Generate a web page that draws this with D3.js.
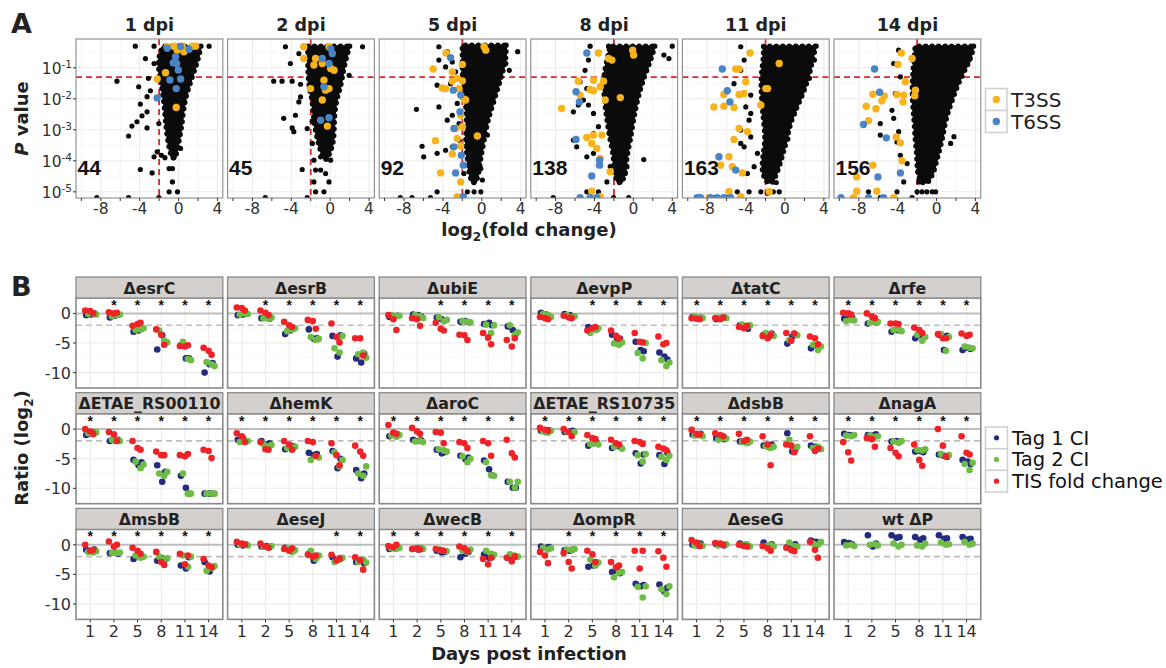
<!DOCTYPE html>
<html><head><meta charset="utf-8">
<script src="https://cdn.jsdelivr.net/npm/d3@7"></script>
<style>body{margin:0;background:#fff}svg{display:block}</style>
</head><body><svg id="c" width="1166" height="668"></svg>
<script>
// ---------------- Panel A data ----------------
const dpiLabels = ["1 dpi","2 dpi","5 dpi","8 dpi","11 dpi","14 dpi"];
const sigCounts = [44,45,92,138,163,156];
const xTickLabelsA = [-8,-4,0,4];
const xTickMarksA = [-10,-8,-6,-4,-2,0,2,4];
const yExpTicksA = [-1,-2,-3,-4,-5];
const pCutoff = 0.05;
const foldCutoff = -2;
// dense core of black points: [log10 P, min log2FC, max log2FC]
const env1 = [[-0.30,-1.6,2.3],[-0.75,-2.2,2.0],[-1.3,-1.9,1.4],[-2.05,-1.5,0.6],[-2.7,-1.35,0.4],[-3.13,-1.2,0.2],[-3.56,-1.0,-0.1],[-3.9,-0.7,-0.3]];
const env2 = [[-0.30,-2.3,2.0],[-0.98,-2.3,1.4],[-1.62,-2.2,1.1],[-2.05,-1.8,0.6],[-2.7,-1.7,0.4],[-3.35,-1.3,0.4],[-3.67,-1.0,0.05],[-3.95,-0.6,-0.3]];
const env3 = [[-0.27,-2.0,2.5],[-0.75,-2.0,2.5],[-1.29,-2.0,2.0],[-2.04,-1.7,1.3],[-2.69,-1.5,0.6],[-3.33,-1.7,0.25],[-3.87,-1.5,-0.1],[-4.41,-1.3,-0.3],[-4.7,-1.0,-0.6]];
const env4 = [[-0.30,-2.4,2.2],[-0.75,-2.7,1.8],[-1.29,-3.1,1.1],[-2.04,-3.0,0.4],[-2.69,-2.7,0.0],[-3.33,-2.4,-0.3],[-3.87,-2.0,-0.7],[-4.41,-2.0,-0.8],[-4.7,-1.6,-1.2]];
const env5 = [[-0.30,-2.2,3.2],[-0.75,-2.2,2.8],[-1.29,-2.5,2.5],[-2.04,-2.4,1.6],[-2.69,-2.2,0.6],[-3.33,-2.0,0.2],[-3.87,-2.3,-0.3],[-4.41,-2.4,-0.8],[-4.7,-1.8,-1.3]];
const env6 = [[-0.30,-2.2,3.8],[-0.75,-2.3,3.5],[-1.29,-2.5,2.5],[-2.04,-2.5,1.6],[-2.69,-2.3,0.9],[-3.33,-2.2,0.6],[-3.87,-2.0,0.1],[-4.41,-2.0,-0.3],[-4.7,-1.6,-0.9]];
// scattered black points: [log2FC, log10 P]
const blk1 = [[-4.45,-0.30],[-2.52,-0.30],[3.14,-0.30],[-3.41,-0.70],[-2.52,-0.86],[-6.34,-1.43],[-3.1,-1.34],[-4.1,-1.61],[-2.9,-1.74],[-3.24,-1.93],[-3.93,-2.17],[-3.24,-2.42],[-3.76,-2.55],[-4.28,-2.74],[-4.8,-2.88],[-5.14,-3.20],[-3.24,-2.94],[-2.03,-2.8],[-2.2,-3.71],[-1.76,-3.82],[-2.52,-3.87],[-3.93,-4.28],[-2.72,-4.39],[-0.97,-4.25],[-0.63,-4.25],[-0.63,-4.68],[-0.97,-5.0],[-0.11,-5.0],[-8.41,-5.19],[-5.14,-5.19],[-2.03,-5.19],[-0.5,-3.9],[0.2,-3.6],[-1.4,-3.9]];
const blk2 = [[-4.60,-0.32],[-2.71,-0.30],[3.33,-0.32],[-3.22,-0.54],[-4.09,-0.86],[-5.81,-1.43],[-4.95,-1.43],[-3.91,-1.43],[-3.05,-1.53],[1.95,-1.24],[-3.05,-1.94],[-3.22,-2.10],[-3.57,-2.53],[-4.78,-2.63],[-1.84,-2.72],[-3.91,-2.94],[-3.74,-3.06],[-2.36,-2.96],[-1.16,-2.88],[-1.84,-3.44],[-0.98,-3.87],[-0.12,-3.60],[0.05,-3.98],[-1.67,-3.98],[-2.88,-4.28],[-1.5,-4.30],[-0.98,-4.30],[-0.47,-4.41],[-1.67,-4.68],[-0.12,-4.68],[-1.5,-5.0],[-0.64,-5.0],[-6.67,-5.19],[-2.36,-5.19]];
const blk3 = [[-4.41,-0.32],[-3.55,-0.48],[-4.41,-0.75],[-3.72,-0.97],[-3.03,-0.81],[-2.69,-1.13],[-4.59,-1.56],[-3.21,-1.51],[-4.41,-2.26],[-6.72,-2.34],[-2.52,-2.15],[-3.03,-2.53],[-3.55,-2.69],[-2.34,-2.80],[-6.14,-3.53],[-5.97,-3.87],[-4.59,-3.76],[-3.72,-3.66],[-3.03,-3.55],[-2.34,-3.33],[-1.83,-4.41],[-0.1,-4.25],[0.07,-4.62],[-0.1,-5.0],[-1.48,-5.0],[-0.79,-5.0],[-4.59,-5.0],[-8.38,-5.19],[-7.17,-5.19],[-5.28,-5.19],[3.69,-0.48],[2.48,-0.86],[2.83,-1.08],[0.59,-3.17],[0.07,-3.06]];
const blk4 = [[-4.45,-0.30],[-2.55,-0.30],[4.0,-0.30],[3.14,-0.59],[3.66,-0.70],[-4.62,-0.75],[-4.97,-1.08],[-5.48,-1.45],[-4.79,-1.67],[-5.14,-2.04],[-5.66,-2.20],[-6.17,-2.42],[-4.62,-2.20],[-4.10,-2.47],[-3.59,-2.90],[-4.10,-3.12],[-6.17,-3.33],[-5.83,-3.55],[-4.79,-3.87],[-4.10,-3.76],[-2.38,-4.19],[-0.66,-4.19],[-0.83,-4.41],[1.07,-3.96],[-2.72,-4.68],[-4.79,-5.0],[-3.59,-5.0],[-8.24,-5.19],[-2.03,-5.19],[-0.48,-5.19]];
const blk5 = [[-4.55,-0.32],[-4.2,-0.75],[-4.55,-1.08],[-5.24,-1.51],[-3.52,-1.88],[-4.03,-2.26],[-3.52,-2.47],[-3.69,-2.69],[-4.55,-3.01],[-3.52,-3.23],[-4.2,-3.55],[-4.55,-3.44],[-2.83,-3.76],[-3.17,-4.19],[-3.86,-4.41],[-1.79,-4.41],[-4.9,-5.0],[-3.69,-5.0],[-2.48,-5.0],[-5.93,-5.19],[-7.31,-5.19],[3.03,-0.75],[2.52,-1.34],[1.59,-1.77],[0.97,-2.47],[0.3,-3.3],[-1.8,-5.05],[-0.59,-5.0],[-1.2,-5.0],[-0.9,-4.7]];
const blk6 = [[-3.9,-0.43],[-4.41,-0.86],[-3.72,-1.29],[-4.24,-1.83],[-4.59,-2.37],[-4.41,-2.63],[-5.79,-2.80],[-3.9,-3.06],[-4.07,-3.39],[-5.79,-3.17],[-3.72,-3.82],[-3.03,-4.09],[-3.38,-4.68],[-1.83,-4.68],[-4.07,-5.0],[-7.0,-5.0],[-2.0,-5.0],[-1.5,-5.0],[-1.0,-5.0],[-0.45,-5.0],[-0.1,-5.0],[-5.79,-5.19],[-2.52,-5.19],[1.79,-3.22],[1.45,-3.44],[3.52,-0.48],[3.34,-0.75]];
const t3ss1 = [[-1.17,-0.32],[-0.48,-0.30],[0.38,-0.30],[1.41,-0.30],[1.76,-0.30],[0.55,-0.48],[-0.14,-0.43],[-1.34,-1.16],[-2.2,-1.36],[-0.24,-2.28]];
const t6ss1 = [[-1.17,-0.37],[0.21,-0.31],[1.07,-0.40],[-0.31,-0.64],[-0.2,-0.86],[-0.55,-0.84],[-0.03,-1.07],[-0.89,-1.39],[0.21,-1.36],[-0.24,-1.67],[-2.2,-1.97]];
const t3ss2 = [[-2.71,-0.32],[-0.12,-0.32],[-2.71,-0.70],[-1.5,-0.70],[-1.67,-0.91],[-0.81,-0.86],[0.05,-1.02],[0.4,-1.08],[-0.64,-1.40],[-2.02,-1.67],[-0.47,-1.72],[-0.12,-1.67],[-0.81,-2.04],[-0.29,-2.88]];
const t6ss2 = [[0.05,-0.38],[-0.81,-0.70],[-0.12,-0.86],[0.22,-0.54],[-0.64,-1.61],[-0.98,-2.69],[-0.12,-2.61]];
const t3ss3 = [[0.24,-0.32],[0.41,-0.43],[-3.66,-0.52],[-2.0,-0.89],[-5.0,-1.04],[-3.03,-1.13],[-2.52,-1.34],[-2.0,-1.42],[-3.03,-1.43],[-4.07,-1.65],[-3.72,-1.67],[-2.34,-1.67],[-1.66,-2.04],[-1.83,-2.01],[-2.17,-2.53],[-2.69,-2.96],[-2.0,-2.90],[-0.45,-3.20],[-4.76,-3.35],[-2.52,-3.28],[-2.17,-3.52],[-3.03,-3.78],[-4.24,-4.39],[-2.17,-4.68],[-2.52,-5.16]];
const t6ss3 = [[-3.21,-0.67],[-2.93,-1.72],[-2.17,-1.88],[-2.24,-2.42],[-2.86,-2.96],[-2.86,-3.55],[-2.1,-3.82],[-1.90,-4.14],[-2.69,-4.39],[-1.9,-5.16]];
const t3ss4 = [[-3.59,-0.52],[-2.55,-0.70],[-2.21,-0.75],[-0.07,-0.43],[0.03,-0.59],[-5.66,-1.43],[-4.1,-1.40],[-3.07,-1.43],[-4.45,-1.70],[-4.1,-1.74],[-3.41,-1.61],[-5.48,-1.88],[-2.9,-2.04],[-1.34,-1.96],[-7.38,-2.31],[-4.79,-3.25],[-4.1,-3.17],[-3.24,-3.17],[-4.28,-3.44],[-3.76,-3.60],[-3.41,-3.92],[-2.38,-4.35],[-4.28,-4.98],[-3.41,-5.16]];
const t6ss4 = [[-4.79,-0.52],[-5.9,-1.77],[-5.55,-2.10],[-5.9,-3.31],[-3.48,-3.98],[-3.48,-4.14],[-4.28,-4.49],[-5.48,-5.19],[-4.45,-5.19],[-3.76,-5.19]];
const t3ss5 = [[-3.59,-0.52],[-5.07,-1.04],[-4.72,-1.04],[-4.03,-1.45],[-6.28,-1.86],[-4.72,-1.86],[-4.21,-1.83],[-7.31,-2.26],[-6.28,-2.24],[-5.24,-2.28],[-1.79,-1.67],[-4.72,-2.96],[-3.86,-3.06],[-5.24,-3.31],[-5.76,-3.87],[-6.62,-4.14],[-5.41,-4.19],[-4.38,-4.39],[-5.76,-5.0],[-4.55,-5.16],[-1.62,-5.0],[-7.83,-5.19],[-0.59,-0.86],[-1.97,-1.67],[-2.48,-2.20]];
const t6ss5 = [[-6.45,-1.04],[-5.93,-1.74],[-5.66,-2.10],[-6.79,-3.87],[-5.07,-4.30],[-9.03,-5.19],[-8.69,-5.19],[-7.66,-5.19],[-6.97,-5.19],[-6.28,-5.19],[-5.59,-5.19]];
const t3ss6 = [[-3.62,-0.52],[-2.52,-0.70],[-3.97,-0.89],[-3.21,-1.45],[-2.17,-1.72],[-2.24,-1.90],[-4.07,-1.86],[-3.38,-1.88],[-3.45,-2.10],[-5.38,-1.91],[-5.62,-2.06],[-6.55,-1.85],[-7.24,-2.24],[-6.24,-2.32],[-7.0,-2.71],[-4.14,-3.23],[-3.72,-3.42],[-3.55,-4.0],[-6.55,-4.14],[-8.21,-4.52],[-8.21,-4.98],[-6.14,-4.98],[-8.55,-5.19],[-4.41,-5.19]];
const t6ss6 = [[-6.38,-1.04],[-5.86,-1.79],[-7.52,-2.83],[-5.17,-3.26],[-6.03,-4.52],[-3.72,-4.39],[-9.83,-5.19],[-7.0,-5.19],[-5.45,-5.19]];

// ---------------- Panel B data ----------------
const days = ["1","2","5","8","11","14"];
const yTicksB = [0,-5,-10];
const mutants = ["ΔesrC","ΔesrB","ΔubiE","ΔevpP","ΔtatC","Δrfe",
  "ΔETAE_RS00110","ΔhemK","ΔaroC","ΔETAE_RS10735","ΔdsbB","ΔnagA",
  "ΔmsbB","ΔeseJ","ΔwecB","ΔompR","ΔeseG","wt ΔP"];
const seriesNames = ["Tag 1 CI","Tag 2 CI","TIS fold change"];
// each array: 6 days x replicates (log2 ratio)
const esrC_tag1 = [[-0.3,-0.2,0],[-0.7,-0.4,-0.2],[-3.1,-2.9,-2.6],[-6.1,-3.7,-4.8],[-5.4,-7.6,-7.6],[-10,-8.6,-8.4]];
const esrC_tag2 = [[-0.1,0,-0.2],[-0.5,-0.3,-0.2],[-2.8,-2.7,-2.5],[-2.9,-4.6,-4.9],[-4.8,-7.7,-7.9],[-8.2,-8.6,-8.9]];
const esrC_tis  = [[0.5,0.4,0],[0.2,0,0.1],[-2.1,-1.8,-1.6],[-2.7,-3.6,-5.3],[-5.5,-5.6,-5.4],[-5.8,-6.3,-7.0]];
const esrB_tag1 = [[-0.3,-0.2,-0.1],[-0.8,-0.7,-0.9],[-3.5,-2.9,-2.6],[-2.7,-4.3,-4.2],[-3.8,-7.3,-3.7],[-7.6,-8.3,-6.8]];
const esrB_tag2 = [[-0.2,0,-0.1],[-0.8,-0.9,-0.7],[-3.0,-2.7,-2.5],[-4.0,-4.5,-4.3],[-5.9,-6.6,-3.8],[-6.9,-6.6,-7.5]];
const esrB_tis  = [[1.0,0.9,0.5],[0.5,0.1,-0.3],[-1.4,-2.0,-2.3],[-1.1,-1.3,-2.6],[-1.7,-4.0,-4.9],[-4.2,-4.2,-7.1]];
const ubiE_tag1 = [[-0.6,-0.5,-0.4],[-0.2,-0.3,-0.5],[-0.7,-1.0,-1.2],[-1.4,-1.3,-1.5],[-1.8,-1.6,-2.0],[-2.2,-2.8,-3.5]];
const ubiE_tag2 = [[-0.3,-0.5,-0.4],[-0.3,-0.5,-0.8],[-0.6,-1.3,-1.1],[-1.3,-1.4,-1.5],[-1.9,-3.3,-2.0],[-2.0,-3.6,-3.2]];
const ubiE_tis  = [[-0.3,-1.0,-2.8],[-0.8,-1.0,-2.1],[-1.6,-2.6,-2.9],[-3.6,-3.7,-4.5],[-3.3,-4.1,-5.2],[-4.5,-5.6,-4.2]];
const evpP_tag1 = [[0.1,-0.2,-0.5],[-0.1,-0.3,-0.5],[-2.3,-2.5,-2.7],[-3.6,-4.5,-4.3],[-4.8,-6.2,-6.4],[-6.6,-7.3,-7.8]];
const evpP_tag2 = [[-0.1,-0.3,-0.6],[-0.3,-0.6,-0.5],[-3.3,-2.7,-2.5],[-5.1,-5.3,-4.9],[-6.7,-7.6,-5.0],[-7.9,-8.9,-8.3]];
const evpP_tis  = [[-0.6,-0.8,-1.0],[-0.4,-0.7,-0.8],[-2.9,-2.5,-2.3],[-2.9,-3.8,-4.2],[-3.3,-4.8,-4.9],[-3.9,-5.2,-5.0]];
const tatC_tag1 = [[-0.6,-0.8,-0.7],[-1.0,-0.8,-0.7],[-2.0,-2.3,-2.6],[-3.6,-4.0,-3.4],[-5.1,-3.9,-3.6],[-5.9,-5.4,-5.6]];
const tatC_tag2 = [[-0.5,-0.7,-0.8],[-0.7,-0.6,-0.8],[-1.9,-2.2,-2.0],[-3.3,-3.5,-3.8],[-4.5,-3.4,-3.7],[-5.3,-6.2,-5.6]];
const tatC_tis  = [[-0.8,-0.9,-1.0],[-0.8,-1.0,-0.7],[-2.3,-2.5,-2.1],[-3.8,-4.2,-3.6],[-3.3,-4.6,-3.4],[-3.9,-4.2,-5.2]];
const rfe_tag1 = [[-0.9,-1.0,-0.8],[-1.7,-1.3,-1.5],[-3.1,-2.8,-2.9],[-4.2,-3.7,-3.9],[-3.6,-6.2,-3.8],[-6.2,-5.8,-6.0]];
const rfe_tag2 = [[-1.3,-1.1,-1.2],[-1.6,-1.5,-1.4],[-2.8,-2.7,-3.0],[-3.6,-4.6,-4.0],[-3.5,-6.3,-4.0],[-5.6,-5.8,-5.9]];
const rfe_tis  = [[0.1,0,-0.2],[0,-0.5,-0.8],[-1.7,-1.7,-1.8],[-2.4,-2.8,-3.3],[-3.5,-4.2,-4.2],[-3.4,-3.8,-3.6]];
const RS00110_tag1 = [[-1.0,-0.8,-0.6],[-2.0,-1.9,-1.8],[-5.2,-6.1,-5.6],[-6.1,-8.9,-7.2],[-7.9,-9.9,-10.9],[-10.9,-10.9,-10.9]];
const RS00110_tag2 = [[-0.7,-0.9,-0.6],[-1.8,-1.9,-2.0],[-5.5,-6.6,-6.0],[-7.5,-7.9,-7.2],[-7.5,-10.9,-10.9],[-10.9,-10.9,-10.9]];
const RS00110_tis  = [[0,-0.4,-0.8],[-0.5,-0.9,-2.0],[-2.0,-3.2,-3.5],[-3.8,-4.4,-4.4],[-4.4,-4.6,-4.2],[-3.5,-3.7,-4.9]];
const hemK_tag1 = [[-1.8,-1.5,-2.0],[-2.0,-2.6,-2.4],[-3.4,-3.2,-2.9],[-4.0,-4.4,-4.2],[-3.7,-6.6,-5.0],[-6.9,-8.3,-7.5]];
const hemK_tag2 = [[-2.2,-2.1,-2.0],[-2.6,-2.9,-2.7],[-3.2,-3.4,-3.0],[-5.2,-4.6,-4.8],[-3.9,-6.3,-5.2],[-7.5,-7.9,-6.3]];
const hemK_tis  = [[-0.7,-1.2,-2.2],[-2.2,-3.4,-3.5],[-2.0,-2.6,-3.5],[-2.0,-2.2,-4.5],[-2.4,-4.4,-6.1],[-2.8,-3.8,-4.5]];
const aroC_tag1 = [[-1.2,-1.0,-0.9],[-1.8,-2.0,-1.9],[-3.5,-4.1,-3.9],[-4.5,-5.1,-4.8],[-5.3,-6.8,-7.8],[-8.9,-9.9,-9.9]];
const aroC_tag2 = [[-1.1,-1.3,-1.0],[-2.1,-2.0,-2.2],[-3.4,-3.6,-3.8],[-4.6,-5.6,-5.0],[-5.6,-7.8,-7.9],[-8.9,-9.9,-8.9]];
const aroC_tis  = [[0.7,-0.6,-0.8],[0.2,-0.4,-0.8],[-0.5,-0.6,-2.4],[-2.2,-2.4,-3.2],[-2.0,-2.4,-4.5],[-1.8,-4.1,-4.8]];
const RS10735_tag1 = [[-0.3,-0.5,-0.2],[-0.5,-0.4,-0.3],[-2.8,-2.4,-2.2],[-3.2,-2.8,-3.0],[-4.1,-5.8,-4.3],[-4.4,-5.9,-4.0]];
const RS10735_tag2 = [[-0.4,-0.6,-0.3],[-0.4,-0.6,-0.5],[-2.5,-2.3,-2.6],[-3.0,-2.7,-3.3],[-4.4,-5.5,-4.2],[-4.7,-5.2,-4.5]];
const RS10735_tis  = [[0.2,-0.1,-0.3],[0,-0.5,-1.2],[-1.0,-1.5,-1.7],[-1.8,-2.4,-2.6],[-2.0,-2.2,-2.5],[-3.0,-3.3,-3.6]];
const dsbB_tag1 = [[-0.9,-1.0,-0.8],[-1.5,-1.3,-1.7],[-2.1,-2.0,-2.3],[-2.8,-3.0,-2.6],[-0.7,-3.8,-3.4],[-2.8,-3.0,-3.2]];
const dsbB_tag2 = [[-1.1,-0.9,-1.2],[-1.8,-1.5,-1.6],[-2.2,-2.4,-2.1],[-2.9,-3.2,-3.0],[-1.8,-3.3,-3.0],[-3.2,-3.0,-3.4]];
const dsbB_tis  = [[-0.1,-0.8,-0.9],[-0.7,-1.0,-1.2],[-0.8,-2.0,-1.8],[-1.2,-2.6,-6.1],[-2.6,-2.8,-3.9],[-1.2,-3.7,-3.3]];
const nagA_tag1 = [[-0.8,-1.0,-1.1],[-1.0,-1.1,-0.9],[-2.1,-2.0,-2.2],[-3.8,-3.7,-3.9],[-4.3,-4.5,-4.7],[-5.2,-5.5,-5.9]];
const nagA_tag2 = [[-1.1,-1.2,-1.0],[-1.1,-1.3,-1.2],[-2.1,-2.3,-2.0],[-3.5,-3.6,-3.4],[-4.2,-4.6,-4.4],[-5.9,-6.9,-5.7]];
const nagA_tis  = [[-2.2,-3.9,-5.3],[-1.5,-1.7,-3.0],[-3.2,-4.0,-4.6],[-2.6,-5.2,-6.2],[0,-2.8,-4.6],[-1.2,-4.0,-4.3]];
const msbB_tag1 = [[-0.85,-1.0,-0.8],[-1.4,-1.3,-1.5],[-2.4,-1.8,-2.0],[-2.7,-2.3,-2.5],[-3.5,-4.0,-2.1],[-2.9,-4.5,-3.8]];
const msbB_tag2 = [[-1.2,-1.3,-1.1],[-1.35,-1.4,-1.3],[-1.8,-2.2,-2.0],[-2.0,-2.4,-2.3],[-1.8,-3.7,-2.0],[-4.4,-3.9,-3.6]];
const msbB_tis  = [[0,-1.0,-0.9],[0.55,-0.3,0],[-0.5,-1.0,-1.5],[-1.2,-2.9,-3.4],[-1.5,-3.3,-1.8],[-2.4,-3.5,-3.8]];
const eseJ_tag1 = [[0,-0.1,0.1],[-0.3,-0.2,-0.4],[-0.5,-0.8,-1.0],[-1.5,-2.7,-2.0],[-2.1,-2.6,-2.4],[-2.9,-2.6,-3.1]];
const eseJ_tag2 = [[0,0.1,-0.1],[-0.3,-0.4,-0.2],[-0.6,-1.2,-0.9],[-1.0,-2.4,-1.8],[-2.9,-2.5,-2.2],[-2.9,-2.5,-3.0]];
const eseJ_tis  = [[0.5,0.2,0],[0.2,-0.3,-0.5],[-0.7,-1.0,-0.6],[-1.7,-2.0,-1.8],[-1.7,-2.6,-2.3],[-2.1,-2.6,-4.2]];
const wecB_tag1 = [[-0.7,-0.6,-0.5],[-0.7,-0.8,-0.6],[-1.0,-1.3,-1.2],[-2.1,-1.5,-1.2],[-1.6,-2.2,-2.0],[-2.2,-1.9,-2.0]];
const wecB_tag2 = [[-0.6,-0.7,-0.5],[-0.6,-0.5,-0.7],[-0.8,-1.0,-1.1],[-1.0,-1.2,-0.8],[-1.0,-1.5,-1.7],[-1.6,-1.8,-2.0]];
const wecB_tis  = [[-0.2,-0.4,0],[-0.7,-0.6,-0.8],[-0.7,-0.9,-1.0],[-0.3,-0.6,-1.1],[-2.4,-3.3,-2.2],[-2.2,-2.8,-2.0]];
const ompR_tag1 = [[-0.3,-0.5,-0.4],[-0.9,-1.0,-0.8],[-3.7,-3.5,-3.2],[-4.6,-4.4,-4.8],[-6.6,-7.0,-6.8],[-6.7,-7.9,-7.2]];
const ompR_tag2 = [[-0.5,-0.8,-0.6],[-0.8,-0.9,-0.7],[-2.5,-3.5,-3.0],[-5.5,-4.7,-4.6],[-7.1,-8.9,-7.0],[-7.5,-8.3,-7.0]];
const ompR_tis  = [[-1.2,-1.8,-3.1],[-1.4,-2.9,-4.0],[-1.0,-1.6,-2.9],[-2.9,-3.8,-3.5],[-1.0,-4.0,-1.0],[-1.1,-2.2,-3.7]];
const eseG_tag1 = [[0,-0.1,0.2],[0.1,0,-0.1],[0.2,0,-0.2],[0.4,-0.2,0.1],[-0.4,-0.6,0.1],[0.7,0.5,0.4]];
const eseG_tag2 = [[-0.1,0,-0.2],[-0.1,0,0.1],[-0.1,0.1,-0.3],[-0.2,0,-0.3],[0.4,-0.2,-0.3],[0.2,0,0.5]];
const eseG_tis  = [[0.8,0.4,-0.2],[0.3,0.2,0],[0,-0.2,-0.3],[-0.2,-0.6,-1.0],[-0.5,-0.9,-1.1],[0.5,-0.85,-2.2]];
const wtP_tag1 = [[0.45,0.3,0.1],[1.6,-0.3,0.2],[1.6,1.2,1.3],[1.3,0.85,1.1],[1.6,1.0,1.1],[1.3,0.9,1.0]];
const wtP_tag2 = [[-0.1,0,-0.2],[0,0.1,-0.1],[0.2,-0.3,0],[-0.1,-0.3,0.2],[0.4,0,0.1],[0.5,0,0.2]];
const wtP_tis  = [];
// significance stars per day
const stars = [
  [0,1,1,1,1,1],[0,1,1,1,1,1],[0,0,1,1,1,1],[0,0,1,1,1,1],[1,1,1,1,1,1],[1,1,1,1,1,1],
  [1,1,1,1,1,1],[1,1,1,1,1,1],[1,1,1,1,1,1],[1,1,1,1,1,1],[1,1,1,1,1,1],[1,1,1,1,1,1],
  [1,1,1,1,1,1],[0,0,0,0,1,1],[1,1,1,1,1,1],[0,1,1,1,1,1],[0,0,0,0,0,0],[0,0,0,0,0,0]];

// ---------------- drawing ----------------
const FONT = "'DejaVu Sans', sans-serif";
const ARIAL = "'Liberation Sans', Arial, sans-serif";
const COL = {blk:"#0b0b0b", t3:"#f8b31a", t6:"#4a84c4", tag1:"#252a7d", tag2:"#6dbd45", tis:"#ee2328",
  grid:"#ebebeb", gridMinor:"#f4f4f4", border:"#8a8a8a", strip:"#d4d0cd", red:"#e8232b", txt:"#303030"};
const svg = d3.select("#c");
const defs = svg.append("defs");
const colLeft = i => 76 + i * 151.6;
const PW = 146.8;

// ---- Panel A ----
const envs = [env1,env2,env3,env4,env5,env6];
const blks = [blk1,blk2,blk3,blk4,blk5,blk6];
const t3s = [t3ss1,t3ss2,t3ss3,t3ss4,t3ss5,t3ss6];
const t6s = [t6ss1,t6ss2,t6ss3,t6ss4,t6ss5,t6ss6];
const aTop = 39, aBot = 198;

svg.append("text").attr("x", 11).attr("y", 33).attr("font-family", FONT).attr("font-weight", "bold")
  .attr("font-size", 27).attr("fill", "#222").text("A");

dpiLabels.forEach((lab, i) => {
  const L = colLeft(i);
  const x = d3.scaleLinear().domain([-10.55, 4.55]).range([L, L + PW]);
  const y = d3.scaleLinear().domain([-5.2, -0.07]).range([aBot, aTop]);
  const g = svg.append("g");
  defs.append("clipPath").attr("id", "ca" + i).append("rect")
    .attr("x", L).attr("y", aTop).attr("width", PW).attr("height", aBot - aTop);
  g.append("rect").attr("x", L).attr("y", aTop).attr("width", PW).attr("height", aBot - aTop).attr("fill", "#fff");
  const yMinor = [-0.5,-1.5,-2.5,-3.5,-4.5];
  g.selectAll(null).data(yMinor).enter().append("line")
    .attr("x1", L).attr("x2", L + PW).attr("y1", d => y(d)).attr("y2", d => y(d))
    .attr("stroke", COL.gridMinor).attr("stroke-width", 0.8);
  g.selectAll(null).data(yExpTicksA).enter().append("line")
    .attr("x1", L).attr("x2", L + PW).attr("y1", d => y(d)).attr("y2", d => y(d))
    .attr("stroke", COL.grid).attr("stroke-width", 1.1);
  g.selectAll(null).data(xTickMarksA).enter().append("line")
    .attr("x1", d => x(d)).attr("x2", d => x(d)).attr("y1", aTop).attr("y2", aBot)
    .attr("stroke", d => xTickLabelsA.includes(d) ? COL.grid : COL.gridMinor).attr("stroke-width", 1.1);
  g.append("line").attr("x1", L).attr("x2", L + PW).attr("y1", y(Math.log10(pCutoff))).attr("y2", y(Math.log10(pCutoff)))
    .attr("stroke", COL.red).attr("stroke-width", 1.8).attr("stroke-dasharray", "6,4");
  g.append("line").attr("x1", x(foldCutoff)).attr("x2", x(foldCutoff)).attr("y1", aTop).attr("y2", aBot)
    .attr("stroke", COL.red).attr("stroke-width", 1.8).attr("stroke-dasharray", "6,4");
  const cg = g.append("g").attr("clip-path", `url(#ca${i})`);
  const area = d3.area().curve(d3.curveBasis).y(d => y(d[0])).x0(d => x(d[1])).x1(d => x(d[2]));
  cg.append("path").datum(envs[i]).attr("d", area).attr("fill", COL.blk)
    .attr("stroke", COL.blk).attr("stroke-width", 2).attr("stroke-linejoin", "round");
  cg.append("path").datum(envs[i]).attr("d", area).attr("fill", "none")
    .attr("stroke", COL.blk).attr("stroke-width", 5.4).attr("stroke-linecap", "round").attr("stroke-dasharray", "0,6.5");
  cg.selectAll(null).data(blks[i]).enter().append("circle")
    .attr("cx", d => x(d[0])).attr("cy", d => y(d[1])).attr("r", 2.6).attr("fill", COL.blk);
  cg.selectAll(null).data(t3s[i]).enter().append("circle")
    .attr("cx", d => x(d[0])).attr("cy", d => y(d[1])).attr("r", 3.7).attr("fill", COL.t3);
  cg.selectAll(null).data(t6s[i]).enter().append("circle")
    .attr("cx", d => x(d[0])).attr("cy", d => y(d[1])).attr("r", 3.7).attr("fill", COL.t6);
  g.append("text").attr("x", L + 1.5).attr("y", 175).attr("font-family", ARIAL).attr("font-weight", "bold")
    .attr("font-size", 21).attr("fill", "#111").text(sigCounts[i]);
  g.append("rect").attr("x", L).attr("y", aTop).attr("width", PW).attr("height", aBot - aTop)
    .attr("fill", "none").attr("stroke", COL.border).attr("stroke-width", 1.1);
  g.append("text").attr("x", L + PW / 2).attr("y", 31).attr("text-anchor", "middle").attr("font-family", FONT)
    .attr("font-weight", "bold").attr("font-size", 17.5).attr("fill", "#222").text(lab);
  g.selectAll(null).data(xTickMarksA).enter().append("line")
    .attr("x1", d => x(d)).attr("x2", d => x(d)).attr("y1", aBot).attr("y2", aBot + 3)
    .attr("stroke", "#333").attr("stroke-width", 1);
  g.selectAll(null).data(xTickLabelsA).enter().append("text")
    .attr("x", d => x(d)).attr("y", 214).attr("text-anchor", "middle").attr("font-family", FONT)
    .attr("font-size", 15.5).attr("fill", COL.txt).text(d => d);
  if (i === 0) {
    yExpTicksA.forEach(e => {
      g.append("line").attr("x1", L - 3).attr("x2", L).attr("y1", y(e)).attr("y2", y(e)).attr("stroke", "#333");
      const t = g.append("text").attr("x", L - 4).attr("y", y(e) + 6).attr("text-anchor", "end")
        .attr("font-family", FONT).attr("font-size", 15.5).attr("fill", COL.txt);
      t.append("tspan").text("10");
      t.append("tspan").attr("dy", -6).attr("font-size", 10.5).text(e);
    });
  }
});
{
  const t = svg.append("text").attr("x", 529).attr("y", 236).attr("text-anchor", "middle")
    .attr("font-family", FONT).attr("font-weight", "bold").attr("font-size", 18).attr("fill", "#222");
  t.append("tspan").text("log");
  t.append("tspan").attr("dy", 5).attr("font-size", 12).text("2");
  t.append("tspan").attr("dy", -5).text("(fold change)");
  const ty = svg.append("text").attr("transform", "translate(28,118.5) rotate(-90)").attr("text-anchor", "middle")
    .attr("font-family", FONT).attr("font-weight", "bold").attr("font-size", 18).attr("fill", "#222");
  ty.append("tspan").attr("font-style", "italic").text("P");
  ty.append("tspan").text(" value");
}
[["T3SS", COL.t3], ["T6SS", COL.t6]].forEach((d, k) => {
  const yy = 88.5 + k * 22;
  svg.append("rect").attr("x", 985.5).attr("y", yy).attr("width", 21.5).attr("height", 22)
    .attr("fill", "#fff").attr("stroke", "#cfcfcf").attr("stroke-width", 1.5);
  svg.append("circle").attr("cx", 996.3).attr("cy", yy + 11).attr("r", 3.7).attr("fill", d[1]);
  svg.append("text").attr("x", 1011).attr("y", yy + 18).attr("font-family", FONT).attr("font-size", 20)
    .attr("fill", "#222").text(d[0]);
});

// ---- Panel B ----
const tabB = {
  "ΔesrC":[esrC_tag1,esrC_tag2,esrC_tis], "ΔesrB":[esrB_tag1,esrB_tag2,esrB_tis],
  "ΔubiE":[ubiE_tag1,ubiE_tag2,ubiE_tis], "ΔevpP":[evpP_tag1,evpP_tag2,evpP_tis],
  "ΔtatC":[tatC_tag1,tatC_tag2,tatC_tis], "Δrfe":[rfe_tag1,rfe_tag2,rfe_tis],
  "ΔETAE_RS00110":[RS00110_tag1,RS00110_tag2,RS00110_tis], "ΔhemK":[hemK_tag1,hemK_tag2,hemK_tis],
  "ΔaroC":[aroC_tag1,aroC_tag2,aroC_tis], "ΔETAE_RS10735":[RS10735_tag1,RS10735_tag2,RS10735_tis],
  "ΔdsbB":[dsbB_tag1,dsbB_tag2,dsbB_tis], "ΔnagA":[nagA_tag1,nagA_tag2,nagA_tis],
  "ΔmsbB":[msbB_tag1,msbB_tag2,msbB_tis], "ΔeseJ":[eseJ_tag1,eseJ_tag2,eseJ_tis],
  "ΔwecB":[wecB_tag1,wecB_tag2,wecB_tis], "ΔompR":[ompR_tag1,ompR_tag2,ompR_tis],
  "ΔeseG":[eseG_tag1,eseG_tag2,eseG_tis], "wt ΔP":[wtP_tag1,wtP_tag2,wtP_tis]
};
const seriesCols = [COL.tag1, COL.tag2, COL.tis];
const JIT = [[-4,1,4],[-2,3,6],[-5,0,3]];   // horizontal jitter (px) per series & replicate

svg.append("text").attr("x", 11).attr("y", 296).attr("font-family", FONT).attr("font-weight", "bold")
  .attr("font-size", 27).attr("fill", "#222").text("B");

mutants.forEach((m, f) => {
  const r = Math.floor(f / 6), c = f % 6;
  const L = colLeft(c);
  const sTop = 277 + r * 115.7, pTop = sTop + 21, pBot = pTop + 90;
  const x = d3.scalePoint().domain(days).range([L, L + PW]).padding(0.6);
  const y = d3.scaleLinear().domain([-12.6, 2.6]).range([pBot, pTop]);
  const g = svg.append("g");
  g.append("rect").attr("x", L).attr("y", pTop).attr("width", PW).attr("height", pBot - pTop).attr("fill", "#fff");
  g.selectAll(null).data([2.5,-2.5,-7.5,-12.5]).enter().append("line")
    .attr("x1", L).attr("x2", L + PW).attr("y1", d => y(d)).attr("y2", d => y(d))
    .attr("stroke", COL.gridMinor).attr("stroke-width", 0.8);
  g.selectAll(null).data([-5,-10]).enter().append("line")
    .attr("x1", L).attr("x2", L + PW).attr("y1", d => y(d)).attr("y2", d => y(d))
    .attr("stroke", COL.grid).attr("stroke-width", 1.1);
  g.selectAll(null).data(days).enter().append("line")
    .attr("x1", d => x(d)).attr("x2", d => x(d)).attr("y1", pTop).attr("y2", pBot)
    .attr("stroke", COL.grid).attr("stroke-width", 1.1);
  g.append("line").attr("x1", L).attr("x2", L + PW).attr("y1", y(0)).attr("y2", y(0))
    .attr("stroke", "#bdbdbd").attr("stroke-width", 2);
  g.append("line").attr("x1", L).attr("x2", L + PW).attr("y1", y(-2)).attr("y2", y(-2))
    .attr("stroke", "#bdbdbd").attr("stroke-width", 1.7).attr("stroke-dasharray", "6,4");
  g.selectAll(null).data(days.filter((d, k) => stars[f][k])).enter().append("text")
    .attr("x", d => x(d)).attr("y", pTop + 12).attr("text-anchor", "middle").attr("font-family", ARIAL)
    .attr("font-weight", "bold").attr("font-size", 14).attr("fill", "#111").text("*");
  tabB[m].forEach((ser, s) => {
    const pts = [];
    ser.forEach((vals, k) => vals.forEach((v, j) => pts.push({d: days[k], v, dx: JIT[s][j]})));
    g.selectAll(null).data(pts).enter().append("circle")
      .attr("cx", p => x(p.d) + p.dx).attr("cy", p => y(p.v)).attr("r", 3.3).attr("fill", seriesCols[s]);
  });
  g.append("rect").attr("x", L).attr("y", pTop).attr("width", PW).attr("height", pBot - pTop)
    .attr("fill", "none").attr("stroke", COL.border).attr("stroke-width", 1.6);
  g.append("rect").attr("x", L).attr("y", sTop).attr("width", PW).attr("height", 21)
    .attr("fill", COL.strip).attr("stroke", COL.border).attr("stroke-width", 1.3);
  g.append("text").attr("x", L + PW / 2).attr("y", sTop + 16.5).attr("text-anchor", "middle")
    .attr("font-family", FONT).attr("font-weight", "bold").attr("font-size", 15.8).attr("fill", "#222").text(m);
  if (c === 0) {
    yTicksB.forEach(v => {
      g.append("line").attr("x1", L - 3).attr("x2", L).attr("y1", y(v)).attr("y2", y(v)).attr("stroke", "#333");
      g.append("text").attr("x", L - 5).attr("y", y(v) + 6).attr("text-anchor", "end").attr("font-family", FONT)
        .attr("font-size", 16).attr("fill", COL.txt).text(v);
    });
  }
  if (r === 2) {
    days.forEach(d => {
      g.append("line").attr("x1", x(d)).attr("x2", x(d)).attr("y1", pBot).attr("y2", pBot + 3).attr("stroke", "#333");
      g.append("text").attr("x", x(d)).attr("y", 637).attr("text-anchor", "middle").attr("font-family", FONT)
        .attr("font-size", 16).attr("fill", COL.txt).text(d);
    });
  }
});
svg.append("text").attr("x", 529).attr("y", 660).attr("text-anchor", "middle").attr("font-family", FONT)
  .attr("font-weight", "bold").attr("font-size", 18).attr("fill", "#222").text("Days post infection");
{
  const ty = svg.append("text").attr("transform", "translate(28,448) rotate(-90)").attr("text-anchor", "middle")
    .attr("font-family", FONT).attr("font-weight", "bold").attr("font-size", 18).attr("fill", "#222");
  ty.append("tspan").text("Ratio (log");
  ty.append("tspan").attr("dy", 5).attr("font-size", 12).text("2");
  ty.append("tspan").attr("dy", -5).text(")");
}
seriesNames.forEach((nm, k) => {
  const yy = 427 + k * 21.7;
  svg.append("rect").attr("x", 985.5).attr("y", yy).attr("width", 22).attr("height", 21.7)
    .attr("fill", "#fff").attr("stroke", "#cfcfcf").attr("stroke-width", 1.5);
  svg.append("circle").attr("cx", 996.5).attr("cy", yy + 10.8).attr("r", 2.6).attr("fill", seriesCols[k]);
  svg.append("text").attr("x", 1012).attr("y", yy + 17.5).attr("font-family", FONT).attr("font-size", 19.5)
    .attr("fill", "#111").text(nm);
});
</script></body></html>
